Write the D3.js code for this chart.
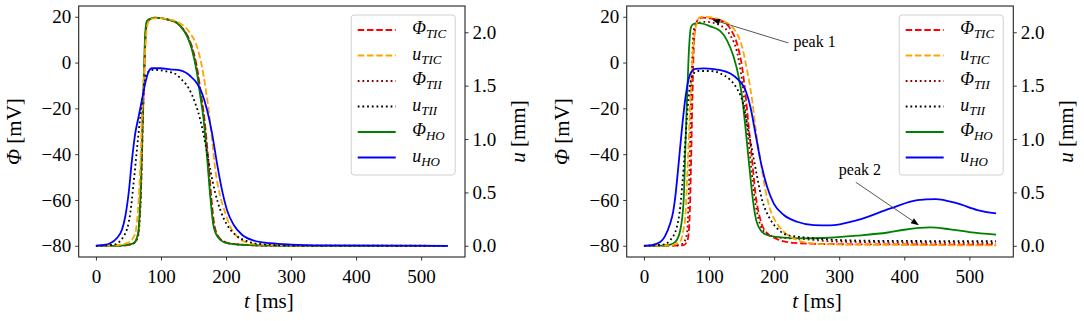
<!DOCTYPE html>
<html><head><meta charset="utf-8">
<script src="https://cdn.jsdelivr.net/npm/d3@7"></script>
<style>
body{margin:0;background:#fff}
svg{display:block}
text{font-family:"Liberation Serif","Times New Roman",serif;fill:#000}
</style>
</head><body>
<svg id="chart" width="1084" height="321"></svg>
<script>
// ---------- tick labels ----------
const xTicks = [0, 100, 200, 300, 400, 500];
const phiTicks = [-80, -60, -40, -20, 0, 20];
const uTicks = [0, 0.5, 1.0, 1.5, 2.0];

// ---------- legend ----------
const legendSym = ["Φ", "u", "Φ", "u", "Φ", "u"];
const legendSub = ["TIC", "TIC", "TII", "TII", "HO", "HO"];

// ---------- left panel data: [t (ms), value] ; Φ in mV, u in mm ----------
const L_phiTIC = [[0,-80],[40,-79.9],[50,-79.6],[58,-79],[62,-77.5],[65.5,-74],[67.5,-66],[69,-58],[70.5,-44],[72.5,-22],[74,-8],[76.5,12],[79,17.8],[84,19.1],[92,19.6],[100,19.4],[114,18.5],[124.6,17.3],[130,15.9],[141,11.5],[149,5.7],[156.8,-4.5],[162,-14.7],[167,-24.9],[172.3,-41],[177.3,-58.4],[182.5,-71.6],[190,-76.6],[203,-78.8],[228,-79.6],[260,-79.9],[300,-80],[541,-80]];
const L_uTIC = [[0,0],[30,0.004],[45,0.021],[53,0.043],[60.5,0.118],[65.6,0.428],[68.2,0.749],[70.7,1.209],[73.3,1.520],[77.4,1.991],[80,2.087],[85,2.125],[95,2.132],[110,2.123],[129.7,2.083],[145,1.991],[155.3,1.866],[163,1.678],[168.2,1.492],[173.3,1.274],[178.5,0.993],[183.6,0.711],[191.2,0.462],[199,0.306],[206.6,0.180],[216.9,0.088],[232.3,0.030],[252.8,0.011],[300,0.002],[541,0]];
const L_phiTII = [[0,-80],[40,-79.9],[48,-79.6],[55,-79.2],[61,-78.1],[64,-76.5],[66.3,-73],[67.7,-67],[68.9,-60],[70.4,-45.3],[72.4,-23.5],[74,-8.9],[76.5,13],[79,18.1],[84,19.1],[91,19.5],[100,19.4],[114.5,18.5],[125,17.3],[130.3,15.9],[140.7,11.5],[148.3,5.7],[156,-4.5],[161.2,-14.7],[166.3,-24.9],[171.5,-41],[176.5,-58.4],[181.7,-71.6],[189.3,-76.6],[202,-78.8],[227,-79.6],[260,-79.9],[300,-80],[541,-80]];
const L_uTII = [[0,0],[27,0.009],[42.6,0.088],[52.8,0.306],[57.9,0.586],[63,0.899],[68.2,1.209],[73.3,1.460],[78.4,1.616],[88.6,1.648],[109,1.633],[124.6,1.601],[129.7,1.569],[142.5,1.477],[152.7,1.336],[160.5,1.179],[168.2,0.961],[175.8,0.711],[183.6,0.492],[191.2,0.336],[201.5,0.197],[214.3,0.103],[232.3,0.043],[258,0.013],[300,0.002],[541,0]];
const L_phiHO = [[0,-80],[20,-80],[40,-79.9],[48,-79.6],[55,-79.2],[60.5,-78.1],[63,-76.5],[65.6,-73],[67,-67],[68.2,-60],[69.7,-45.3],[71.7,-23.5],[73.3,-8.9],[75.8,13],[78.4,18.1],[83.5,19.1],[90,19.6],[99,19.4],[114,18.5],[124.6,17.3],[129.7,15.9],[140,11.5],[147.6,5.7],[155.3,-4.5],[160.5,-14.7],[165.6,-24.9],[170.8,-41],[175.8,-58.4],[181,-71.6],[188.6,-76.6],[201.5,-78.8],[227,-79.6],[260,-79.9],[300,-80],[541,-80]];
const L_uHO = [[0,0],[10,0.006],[22,0.024],[32.3,0.073],[40,0.150],[45.1,0.274],[50.3,0.492],[55.4,0.805],[60.5,1.055],[65.6,1.209],[70.7,1.366],[75.8,1.522],[80.9,1.631],[86,1.663],[99,1.663],[114,1.652],[129.7,1.642],[145,1.590],[155.3,1.522],[163,1.430],[170.8,1.274],[178.5,1.055],[186.1,0.775],[193.8,0.524],[201.5,0.336],[211.7,0.197],[224.6,0.103],[242.6,0.049],[268,0.024],[300,0.011],[350,0.004],[541,0]];

// ---------- right panel data ----------
const R_phiTIC = [[0,-80],[50,-79.9],[61,-79.7],[67.1,-77.5],[70.2,-67.4],[72.3,-45.6],[74.4,-16.5],[76.4,5.3],[79,15.5],[84,19.1],[89,19.6],[100,19.3],[117.4,18.4],[132.8,14.7],[143,8.2],[150.8,-1.9],[155.9,-13.5],[161,-28.1],[166.2,-42.7],[171.3,-57.1],[179,-68.7],[189.2,-74.5],[204.6,-77.1],[230.3,-78.7],[286,-79.3],[541,-79.5]];
const R_uTIC = [[0,0],[40,0.004],[50,0.021],[55.8,0.039],[60,0.129],[63.5,0.270],[67.1,0.738],[70.2,1.206],[73.8,1.674],[77.9,1.987],[81.5,2.094],[86,2.142],[95,2.144],[117.4,2.116],[132.8,2.064],[143,1.987],[150.8,1.863],[158.4,1.646],[166.2,1.365],[171.3,1.114],[179,0.800],[186.7,0.521],[194.4,0.333],[204.6,0.208],[214.9,0.131],[230.3,0.069],[250.8,0.028],[290,0.013],[541,0.004]];
const R_phiTII = [[0,-80],[50,-79.8],[60,-79],[66.1,-74.6],[68.6,-60.1],[71.2,-31],[73.8,-2],[76.4,14.1],[81.5,17],[95,17.8],[117.4,16.2],[132.8,11.8],[143,4.6],[149.2,-4.8],[154.3,-16.4],[159.5,-31],[164.6,-45.5],[169.7,-58.6],[176.4,-68.7],[186.7,-74.3],[204.6,-76.3],[245.6,-77.1],[300,-78.2],[541,-78.8]];
const R_uTII = [[0,0],[30,0.011],[40.5,0.054],[50.7,0.178],[55.8,0.365],[61,0.738],[66.1,1.206],[71.2,1.519],[76.4,1.614],[84,1.637],[102,1.637],[117.4,1.614],[132.8,1.552],[143,1.472],[150.8,1.365],[158.4,1.146],[166.2,0.895],[173.9,0.646],[181.6,0.427],[191.8,0.273],[204.6,0.163],[220,0.101],[245.6,0.079],[286,0.058],[350,0.047],[541,0.043]];
const R_phiHO = [[0,-80],[30,-79.9],[40,-79.5],[48.2,-78.3],[55.8,-73.2],[61,-60.1],[63.5,-38.3],[66.1,-16.5],[68.6,2.4],[72.3,15.5],[76.4,16.9],[85,17.2],[102,15.8],[117.4,13.7],[127.6,9.7],[137.9,2.4],[145.6,-6.3],[150.8,-15.1],[155.9,-28.2],[161,-42.7],[166.2,-57.1],[171.3,-67.3],[179,-73.1],[189.2,-75.3],[209.7,-76.3],[245.6,-76.8],[276.4,-76.6],[327,-75.6],[375,-74.2],[400,-73],[440,-72],[470,-72.8],[500,-74],[541,-75.1]];
const R_uHO = [[0,0],[10,0.004],[25,0.036],[32,0.086],[40,0.204],[45,0.322],[48,0.451],[53,0.751],[58,1.073],[63,1.352],[68,1.545],[73,1.631],[79,1.657],[92,1.661],[117.4,1.646],[132.8,1.614],[145.6,1.552],[155.9,1.459],[163.6,1.300],[171.3,1.052],[179,0.800],[189.2,0.552],[199.5,0.395],[214.9,0.288],[235.4,0.225],[261,0.193],[286,0.191],[327.7,0.240],[379,0.350],[420,0.427],[448,0.438],[481.5,0.397],[512.3,0.335],[541,0.303]];

// ---------- annotations (right panel) ----------
const peakLabels = ["peak 1", "peak 2"];
const peakTarget = [[104.6, 18.8], [422.5, -71.0]];   // [t, Φ]
const peakTextPos = [[229.7, 6.6], [299.4, -49.2]];   // [t, Φ] text baseline-left

// ---------- rendering ----------
const svg = d3.select("#chart");
const plotTop = 6, plotBottom = 257;
const xDomain = [-26.5, 567.5];
const phiDomain = [-84.9, 24.7];
const uDomain = [-0.105, 2.246];

const styles = [
  {color:"#ff0000", dash:"6.5,2.8", axis:"phi"},
  {color:"#ffa500", dash:"6.5,2.8", axis:"u"},
  {color:"#8b0000", dash:"1.8,2.9", axis:"phi"},
  {color:"#000000", dash:"1.8,2.9", axis:"u"},
  {color:"#008000", dash:null, axis:"phi"},
  {color:"#0000ff", dash:null, axis:"u"}
];

const panels = [
  {x0:78.7, x1:465, series:[L_phiTIC, L_uTIC, L_phiTII, L_uTII, L_phiHO, L_uHO], annot:false},
  {x0:626.7, x1:1013.3, series:[R_phiTIC, R_uTIC, R_phiTII, R_uTII, R_phiHO, R_uHO], annot:true}
];

const fmtTick = v => (v < 0 ? "\u2212" + Math.abs(v) : String(v));

panels.forEach(p => {
  const g = svg.append("g");
  const x = d3.scaleLinear().domain(xDomain).range([p.x0, p.x1]);
  const yPhi = d3.scaleLinear().domain(phiDomain).range([plotBottom, plotTop]);
  const yU = d3.scaleLinear().domain(uDomain).range([plotBottom, plotTop]);

  const cid = "clip" + Math.round(p.x0);
  svg.append("clipPath").attr("id", cid).append("rect")
    .attr("x", p.x0).attr("y", plotTop).attr("width", p.x1 - p.x0).attr("height", plotBottom - plotTop);

  // curves: Φ first (primary axis), then u (twin axis)
  const order = [0, 2, 4, 1, 3, 5];
  const lines = g.append("g").attr("clip-path", `url(#${cid})`);
  order.forEach(i => {
    const st = styles[i];
    const ys = st.axis === "phi" ? yPhi : yU;
    const line = d3.line().x(d => x(d[0])).y(d => ys(d[1])).curve(d3.curveMonotoneX);
    lines.append("path").datum(p.series[i])
      .attr("d", line).attr("fill", "none")
      .attr("stroke", st.color).attr("stroke-width", 1.8)
      .attr("stroke-dasharray", st.dash);
  });

  const axX = d3.axisBottom(x).tickValues(xTicks).tickSize(3.5).tickPadding(5).tickFormat(fmtTick);
  const axL = d3.axisLeft(yPhi).tickValues(phiTicks).tickSize(3.5).tickPadding(4).tickFormat(fmtTick);
  const axR = d3.axisRight(yU).tickValues(uTicks).tickSize(3.5).tickPadding(4).tickFormat(d3.format(".1f"));

  const gx = g.append("g").attr("transform", `translate(0,${plotBottom})`).call(axX);
  const gl = g.append("g").attr("transform", `translate(${p.x0},0)`).call(axL);
  const gr = g.append("g").attr("transform", `translate(${p.x1},0)`).call(axR);
  [gx, gl, gr].forEach(a => {
    a.select(".domain").remove();
    a.selectAll(".tick line").attr("stroke", "#222").attr("stroke-width", 0.9);
    a.selectAll(".tick text").attr("font-size", 19).attr("fill", "#000")
      .attr("font-family", '"Liberation Serif", serif');
  });
  gx.selectAll(".tick text").attr("dy", "0.9em");

  g.append("rect").attr("x", p.x0).attr("y", plotTop)
    .attr("width", p.x1 - p.x0).attr("height", plotBottom - plotTop)
    .attr("fill", "none").attr("stroke", "#222").attr("stroke-width", 1.1);

  const cx = (p.x0 + p.x1) / 2, cy = (plotTop + plotBottom) / 2;
  const tl = g.append("text").attr("x", cx - 3).attr("y", 308).attr("text-anchor", "middle").attr("font-size", 21);
  tl.append("tspan").attr("font-style", "italic").text("t");
  tl.append("tspan").text(" [ms]");

  const pl = g.append("text").attr("transform", `translate(${p.x0 - 58},${cy}) rotate(-90)`)
    .attr("text-anchor", "middle").attr("font-size", 21);
  pl.append("tspan").attr("font-style", "italic").text("Φ");
  pl.append("tspan").text(" [mV]");

  const ul = g.append("text").attr("transform", `translate(${p.x1 + 60},${cy}) rotate(-90)`)
    .attr("text-anchor", "middle").attr("font-size", 21);
  ul.append("tspan").attr("font-style", "italic").text("u");
  ul.append("tspan").text(" [mm]");

  const lx = p.x0 + 272.5, ly = 15;
  const lg = g.append("g");
  lg.append("rect").attr("x", lx).attr("y", ly).attr("width", 104).attr("height", 160)
    .attr("rx", 3).attr("fill", "#fff").attr("fill-opacity", 0.85)
    .attr("stroke", "#d0d0d0").attr("stroke-width", 1);
  legendSym.forEach((s, i) => {
    const yy = ly + 15 + i * 25.5;
    lg.append("line").attr("x1", lx + 6.5).attr("x2", lx + 44.5).attr("y1", yy).attr("y2", yy)
      .attr("stroke", styles[i].color).attr("stroke-width", 1.8).attr("stroke-dasharray", styles[i].dash);
    const t = lg.append("text").attr("x", lx + 61).attr("y", yy + 4).attr("font-size", 18);
    t.append("tspan").attr("font-style", "italic").text(s);
    t.append("tspan").attr("font-style", "italic").attr("font-size", 13).attr("dy", 4).text(legendSub[i]);
  });

  if (p.annot) {
    const offs = [[-5, -4.5], [17, 7]];
    peakLabels.forEach((lab, i) => {
      const tx = x(peakTextPos[i][0]), ty = yPhi(peakTextPos[i][1]);
      g.append("text").attr("x", tx).attr("y", ty).attr("font-size", 16).text(lab);
      const sx = tx + offs[i][0], sy = ty + offs[i][1];
      const ex = x(peakTarget[i][0]), ey = yPhi(peakTarget[i][1]);
      const ang = Math.atan2(ey - sy, ex - sx);
      const hl = 8, hw = 3;
      const bx = ex - hl * Math.cos(ang), by = ey - hl * Math.sin(ang);
      g.append("line").attr("x1", sx).attr("y1", sy).attr("x2", bx).attr("y2", by)
        .attr("stroke", "#444").attr("stroke-width", 0.9);
      const px = -Math.sin(ang) * hw, py = Math.cos(ang) * hw;
      g.append("path").attr("d", `M${ex},${ey}L${bx + px},${by + py}L${bx - px},${by - py}Z`)
        .attr("fill", "#000");
    });
  }
});
</script>
</body></html>
